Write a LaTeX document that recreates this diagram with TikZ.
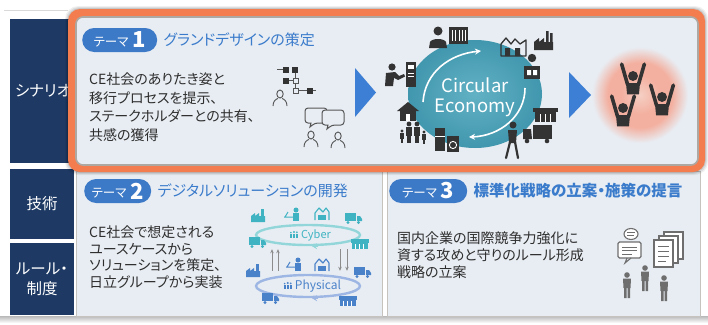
\documentclass[tikz,border=0pt]{standalone}
\usepackage{fontspec}
\setmainfont{Noto Sans CJK JP}[RawFeature=+palt]
\usepackage{xcolor}
\definecolor{navyside}{HTML}{1E3A64}
\definecolor{framorange}{HTML}{F47D50}
\definecolor{panelbg}{HTML}{E8EDF3}
\definecolor{edgegray}{HTML}{ADA9A2}
\definecolor{pillblue}{HTML}{3C79C6}
\definecolor{titleblue}{HTML}{3A7BCB}
\definecolor{arrowblue}{HTML}{3C7FD4}
\definecolor{cecenter}{HTML}{62B1C4}
\definecolor{ceedge}{HTML}{4197AE}
\definecolor{icondark}{HTML}{333333}
\definecolor{iconline}{HTML}{555555}
\definecolor{cyberteal}{HTML}{3FB3C2}
\definecolor{cyberring}{HTML}{92D6DA}
\definecolor{physblue}{HTML}{4A82C9}
\definecolor{physring}{HTML}{9DB6E3}
\definecolor{arrowgray}{HTML}{8C8C8C}
\definecolor{docgray}{HTML}{6E6E6E}
\definecolor{glowcore}{HTML}{F5CFC4}
\definecolor{glowpink}{HTML}{F3B0A0}
\definecolor{textdark}{HTML}{2E2E2E}
\usepackage{tikz}
\usetikzlibrary{positioning,arrows.meta,calc,shapes.geometric}

\pgfdeclareradialshading{pinkglow}{\pgfpoint{0bp}{0bp}}{%
  color(0bp)=(glowcore); color(10bp)=(glowpink); color(17bp)=(glowpink);
  color(25bp)=(panelbg); color(50bp)=(panelbg)}

% --- small pictograms, each drawn around the point given ---
\newcommand{\pilltext}[1]{\raisebox{1.5pt}{\fontsize{12.5}{13}\selectfont テーマ}\hspace{4pt}{\fontsize{22}{22}\selectfont\bfseries #1}}
\newcommand{\outlperson}[1]{%
  \begin{scope}[shift={#1}, draw=iconline, line width=0.9pt]
    \draw (0,0) ellipse (3.2 and 4);
    \draw (-7,12) .. controls (-7,7) and (-4,5) .. (-2,4.5);
    \draw (7,12) .. controls (7,7) and (4,5) .. (2,4.5);
  \end{scope}}
\newcommand{\speechbubble}[1]{%
  \begin{scope}[shift={#1}]
    \filldraw[fill=panelbg, draw=iconline, line width=1pt, rounded corners=3pt]
      (-11,-8) -- (11,-8) -- (11,7) -- (-1,7) [sharp corners] -- (-6,11) -- (-5,7)
      [rounded corners=3pt] -- (-11,7) -- cycle;
  \end{scope}}
\newcommand{\cheerer}[1]{%
  \begin{scope}[shift={#1}, scale=1.08]
    \draw[icondark, line width=3.6pt, line cap=round] (-5,8) -- (-10.5,-11) (5,8) -- (10.5,-11);
    \fill[icondark] (0,0) circle (4.6);
    \fill[icondark] (-6.5,6.5) -- (6.5,6.5) -- (5.5,17) -- (-5.5,17) -- cycle;
  \end{scope}}
\newcommand{\minifactory}[2]{%
  \begin{scope}[shift={#1}]
    \fill[#2] (-7,5) -- (-7,-1) -- (-3,-4) -- (-3,-1) -- (1,-4) -- (1,-1) -- (7,-1) -- (7,5) -- cycle;
    \fill[#2] (3,-8) rectangle (5.5,-1);
  \end{scope}}
\newcommand{\minitruck}[2]{%
  \begin{scope}[shift={#1}]
    \fill[#2] (-8,-5) rectangle (3,3);
    \fill[#2] (4,-2) -- (7,-2) -- (9,1) -- (9,3) -- (4,3) -- cycle;
    \fill[#2] (-5,4.5) circle (1.7) (5.5,4.5) circle (1.7);
  \end{scope}}
\newcommand{\ministore}[2]{%
  \begin{scope}[shift={#1}]
    \fill[#2] (-9,-5) rectangle (9,-1.5);
    \fill[#2] (-8,-1) rectangle (8,5);
    \draw[white, line width=0.6pt] (-5,0) -- (-5,5) (-1,0) -- (-1,5) (3,0) -- (3,5);
  \end{scope}}
\newcommand{\minibldg}[2]{%
  \begin{scope}[shift={#1}]
    \draw[#2, line width=1.1pt, line join=round] (-7,6) -- (-7,-1) -- (-3,-6) -- (1,-2) -- (4,-6) -- (7,-2) -- (7,6);
    \fill[#2] (-4,1) rectangle (4,6);
  \end{scope}}
\newcommand{\minidesk}[2]{%
  \begin{scope}[shift={#1}]
    \fill[#2] (3,-5) circle (2.5);
    \fill[#2] (0,-2) rectangle (6,6);
    \draw[#2, line width=1pt] (-9,2) -- (0,2) (-8,2) -- (-5,-3);
  \end{scope}}
\newcommand{\minipeople}[2]{%
  \begin{scope}[shift={#1}]
    \foreach \dx/\s in {-3/0.8, 0/1, 3/0.9} {
      \fill[#2] (\dx,-3*\s) circle (1.1*\s);
      \fill[#2] (\dx-1*\s,-1.5*\s) rectangle (\dx+1*\s,3);
    }
  \end{scope}}
\newcommand{\talker}[1]{%
  \begin{scope}[shift={#1}]
    \fill[docgray] (0,-9) circle (2.8);
    \fill[docgray] (-4,-5.5) -- (4,-5.5) -- (3.5,4) -- (-3.5,4) -- cycle;
    \fill[docgray] (-3,4) rectangle (-0.5,14) (0.5,4) rectangle (3,14);
  \end{scope}}

\begin{document}
\begin{tikzpicture}[x=1pt, y=-1pt,
  font=\fontsize{14}{18.5}\selectfont,
  sidebox/.style={fill=navyside, text=white, inner sep=0pt, align=center,
    font=\fontsize{15.5}{20}\selectfont},
  panel/.style={fill=panelbg, draw=edgegray!70, line width=0.7pt,
    anchor=north west, inner sep=0pt},
  pill/.style={fill=pillblue, text=white, rounded corners=12pt,
    minimum height=24pt, minimum width=#1, inner sep=0pt, anchor=west},
  ttl/.style={text=titleblue, font=\fontsize{15}{18}\selectfont, inner sep=0pt},
  bodytext/.style={text=textdark, align=left, anchor=north west, inner sep=0pt},
  wharrow/.style={draw=white, line width=1.6pt, -{Stealth[length=6pt,width=6pt]}},
  vert/.style={draw=arrowgray, line width=1pt, -{Stealth[length=4pt,width=3.5pt]},
    shorten >=3pt, shorten <=3pt},
  ring/.style={ellipse, line width=2.4pt, minimum width=104pt, inner sep=0pt},
]
\useasboundingbox (0,0) rectangle (708,324);
\fill[white] (0,0) rectangle (708,324);

% === FRAME LINES ===
\draw[gray!30, line width=0.6pt] (4,10) -- (68,10);
\shade[top color=gray!55, bottom color=white] (0,316) rectangle (708,323);

% === LEFT COLUMN ===
\node[sidebox, minimum width=66pt, minimum height=144pt] (scen) at (43,91) {シナリオ};
\node[sidebox, minimum width=64pt, minimum height=70pt] (tech) at (42,204) {技術};
\node[sidebox, minimum width=64pt, minimum height=72pt] (rule) at (42,279) {ルール・\\制度};

% === LOWER PANELS ===
\node[panel, minimum width=306pt, minimum height=145pt] (techpanel) at (76,171) {};
\node[panel, minimum width=313pt, minimum height=145pt] (rulepanel) at (387,171) {};

% === TOP FRAME (theme 1) ===
\foreach \g/\o in {3/0.06, 2/0.08, 1/0.1}
  \fill[black, opacity=\o, rounded corners=13pt] (68-\g,9-\g) rectangle (705+\g,172+\g);
\fill[framorange, rounded corners=12pt] (68,9) rectangle (705,172);
\filldraw[fill=panelbg, draw=edgegray, line width=1.6pt, rounded corners=7pt] (76,17) rectangle (698,165);

\node[pill=75pt] (pillA) at (82,40) {\pilltext{1}};
\node[ttl, anchor=west, right=6pt of pillA] (ttlA) {グランドデザインの策定};
\node[bodytext] (bodyA) at (89,73)
  {CE社会のありたき姿と\\移行プロセスを提示、\\ステークホルダーとの共有、\\共感の獲得};

% org chart + people talking
\foreach \sx/\sy in {283/67, 292/67, 283/78, 307/88}
  \fill[icondark] (\sx,\sy) rectangle +(5.5,5.5);
\foreach \sx/\sy in {293/78, 293/88}
  \draw[iconline, line width=0.9pt] (\sx,\sy) rectangle +(5.5,5.5);
\draw[iconline, line width=0.9pt] (277,69.75) -- (283,69.75) (288.5,80.75) -- (293,80.75)
  (295.75,72.5) -- (295.75,78) (295.75,83.5) -- (295.75,88)
  (298.5,90.75) -- (307,90.75) (312.5,90.75) -- (316,90.75);
\outlperson{(280,94)}
\speechbubble{(316,116)}
\speechbubble{(333,118)}
\outlperson{(311,135)}
\outlperson{(338,136)}

% step triangles
\fill[arrowblue] (355,68) -- (376,92.5) -- (355,117) -- cycle;
\fill[arrowblue] (569,72) -- (591,95) -- (569,118) -- cycle;

% === CIRCULAR ECONOMY ===
\node[ellipse, minimum width=134pt, minimum height=108pt, inner sep=0pt,
  inner color=cecenter, outer color=ceedge] (ce) at (475,94) {};
\node[text=white, align=center, font=\fontsize{18.5}{20}\selectfont, inner sep=0pt]
  (cetxt) at (475,97) {Circular\\Economy};
\draw[wharrow] ($(ce.center)+(-52,8)$) .. controls ($(ce.center)+(-50,-22)$)
  and ($(ce.center)+(-25,-40)$) .. ($(ce.center)+(6,-43)$);
\draw[wharrow] ($(ce.center)+(50,-6)$) .. controls ($(ce.center)+(50,22)$)
  and ($(ce.center)+(25,42)$) .. ($(ce.center)+(-6,43)$);

% people and things round the loop
\fill[icondark] (438,31) circle (4.5);
\fill[icondark] (429,48) -- (430,42) .. controls (432,38) and (444,38) .. (446,42) -- (447,48) -- cycle;
\fill[icondark] (449,27) rectangle (468,44);
\draw[white, line width=0.8pt] (452,30) -- (452,41) (455.5,30) -- (455.5,41) (459,30) -- (459,41)
  (462.5,30) -- (462.5,41) (465.5,30) -- (465.5,41);
\draw[icondark, line width=1.3pt, line join=round] (501,56) -- (501,44) -- (506,38) -- (511,44)
  -- (515,39) -- (520,44) -- (526,40) -- (526,56) -- cycle;
\fill[icondark] (505,48) rectangle (510,56) (515,48) rectangle (520,56);
\fill[icondark] (534,50) -- (534,42) -- (539,38) -- (539,42) -- (544,38) -- (544,42) -- (553,42) -- (553,50) -- cycle;
\fill[icondark] (546,31) rectangle (548.5,42) (550,33) rectangle (552.5,42);
\fill[icondark] (532,58) circle (4.2);
\fill[icondark] (524,66) rectangle (540,79);
\fill[white] (527,70) rectangle (531,75) (533,70) rectangle (537,75);
\fill[icondark] (392,67) circle (3.6);
\fill[icondark] (385,86) -- (386,73) -- (395,72) -- (399,76) -- (404,74) -- (405,76.5) -- (398,80)
  -- (394,78) -- (393,86) -- cycle;
\fill[icondark] (406,62) rectangle (416,87);
\fill[white] (408,65) rectangle (414,69);
\draw[white, line width=0.5pt] (408,73) -- (414,73) (408,76) -- (414,76);
\fill[icondark] (397,111) -- (408,102) -- (419,111) -- cycle;
\fill[icondark] (400,110) rectangle (416,121);
\fill[white] (406,114) rectangle (410,121);
\foreach \px/\py/\s in {402/131/0.65, 409/124/1, 417/124/1, 424/132/0.65} {
  \fill[icondark] (\px,\py) circle (2.4*\s);
  \fill[icondark] (\px-3*\s,\py+3*\s) rectangle (\px+3*\s,\py+12*\s);
  \fill[icondark] (\px-2.2*\s,\py+12*\s) rectangle (\px+2.2*\s,\py+19*\s);
}
\fill[icondark] (435,128) rectangle (445,151);
\draw[white, line width=0.6pt] (435,136) -- (445,136);
\fill[icondark] (447,136) rectangle (459,152);
\draw[white, line width=0.9pt] (453,145) circle (3.6);
\fill[icondark] (533,108) rectangle (558,112);
\fill[icondark] (535,112) rectangle (556,122);
\draw[white, line width=0.6pt] (540,114) -- (540,122) (545,114) -- (545,122) (550,114) -- (550,122);
\fill[icondark] (533,125) rectangle (552,139);
\fill[icondark] (523,129) -- (531,129) -- (532,139) -- (523,139) -- cycle;
\fill[icondark] (527,141) circle (2.3) (547,141) circle (2.3);
\fill[icondark] (513,125) circle (3.5);
\fill[icondark] (508,130) -- (517,130) -- (516,143) -- (509,143) -- cycle;
\draw[icondark, line width=2.2pt, line cap=round] (510,142) -- (506,158) (515,142) -- (518,158);

% cheering crowd
\shade[shading=pinkglow] (640,95) circle (48);
\cheerer{(633,76)}
\cheerer{(662,97)}
\cheerer{(623,108)}

% === THEME 2: digital solutions ===
\node[pill=67pt] (pillB) at (84,191) {\pilltext{2}};
\node[ttl, anchor=west, right=6pt of pillB] (ttlB) {デジタルソリューションの開発};
\node[bodytext, font=\fontsize{14}{16.5}\selectfont] (bodyB) at (89,226)
  {CE社会で想定される\\ユースケースから\\ソリューションを策定、\\日立グループから実装};

\node[ring, draw=cyberring, minimum height=20pt] (cyber) at (308,235) {};
\node[ring, draw=physring, minimum height=22pt] (phys) at (308,286) {};
\draw[cyberring, line width=2pt, -{Stealth[length=5pt,width=6pt]}] ($(cyber.south)+(10,0)$) -- ($(cyber.south)+(4,0)$);
\draw[physring, line width=2pt, -{Stealth[length=5pt,width=6pt]}] ($(phys.south)+(10,0)$) -- ($(phys.south)+(4,0)$);
\node[text=cyberteal, font=\fontsize{11}{12}\selectfont, inner sep=0pt] (cybertxt) at (316,235) {Cyber};
\node[text=physblue, font=\fontsize{12}{13}\selectfont, inner sep=0pt] (phystxt) at (318,286) {Physical};
\minipeople{($(cybertxt.west)+(-7,0)$)}{cyberteal}
\minipeople{($(phystxt.west)+(-7,0)$)}{physblue}
\draw[vert] ([xshift=-36pt]phys.north) -- ([xshift=-36pt]cyber.south);
\draw[vert] ([xshift=-30pt]phys.north) -- ([xshift=-30pt]cyber.south);
\draw[vert] ([xshift=32pt]cyber.south) -- ([xshift=32pt]phys.north);
\draw[vert] ([xshift=39pt]cyber.south) -- ([xshift=39pt]phys.north);

\minifactory{(258,217)}{cyberteal}
\minidesk{(293,215)}{cyberteal}
\minibldg{(322,214)}{cyberteal}
\minitruck{(353,218)}{cyberteal}
\minitruck{(257,242)}{cyberteal}
\ministore{(360,244)}{cyberteal}
\minifactory{(253,272)}{physblue}
\minidesk{(295,265)}{physblue}
\minibldg{(322,265)}{physblue}
\minitruck{(362,272)}{physblue}
\minitruck{(270,298)}{physblue}
\ministore{(348,301)}{physblue}

% === THEME 3: standardisation ===
\node[pill=78pt] (pillC) at (389,191) {\pilltext{3}};
\node[ttl, anchor=west, right=6pt of pillC, font=\fontsize{15.5}{18}\selectfont\bfseries] (ttlC)
  {標準化戦略の立案・施策の提言};
\node[bodytext, font=\fontsize{14}{17}\selectfont] (bodyC) at (397,231)
  {国内企業の国際競争力強化に\\資する攻めと守りのルール形成\\戦略の立案};

% documents, bubbles and speakers
\foreach \dx/\dy in {10/-8, 5/-4, 0/0}
  \filldraw[fill=white, draw=docgray, line width=1.2pt] (654+\dx,240+\dy) rectangle +(19,27);
\draw[docgray, line width=1pt] (658,246) -- (669,246) (658,251) -- (669,251) (658,256) -- (669,256) (658,261) -- (666,261);
\filldraw[fill=white, draw=docgray, line width=1.1pt] (631,234) ellipse (7 and 5.5);
\draw[docgray, line width=0.9pt] (627,232.5) -- (635,232.5) (627,235.5) -- (634,235.5);
\filldraw[fill=white, draw=docgray, line width=1.1pt, rounded corners=1.5pt] (618,242) rectangle (641,258);
\draw[docgray, line width=0.9pt] (622,247) -- (637,247) (622,250.5) -- (637,250.5) (622,254) -- (632,254);
\draw[docgray, line width=1.1pt] (627,258) -- (625,263) -- (631,258);
\talker{(627,284)}
\talker{(645,277)}
\talker{(664,287)}

\end{tikzpicture}
\end{document}
